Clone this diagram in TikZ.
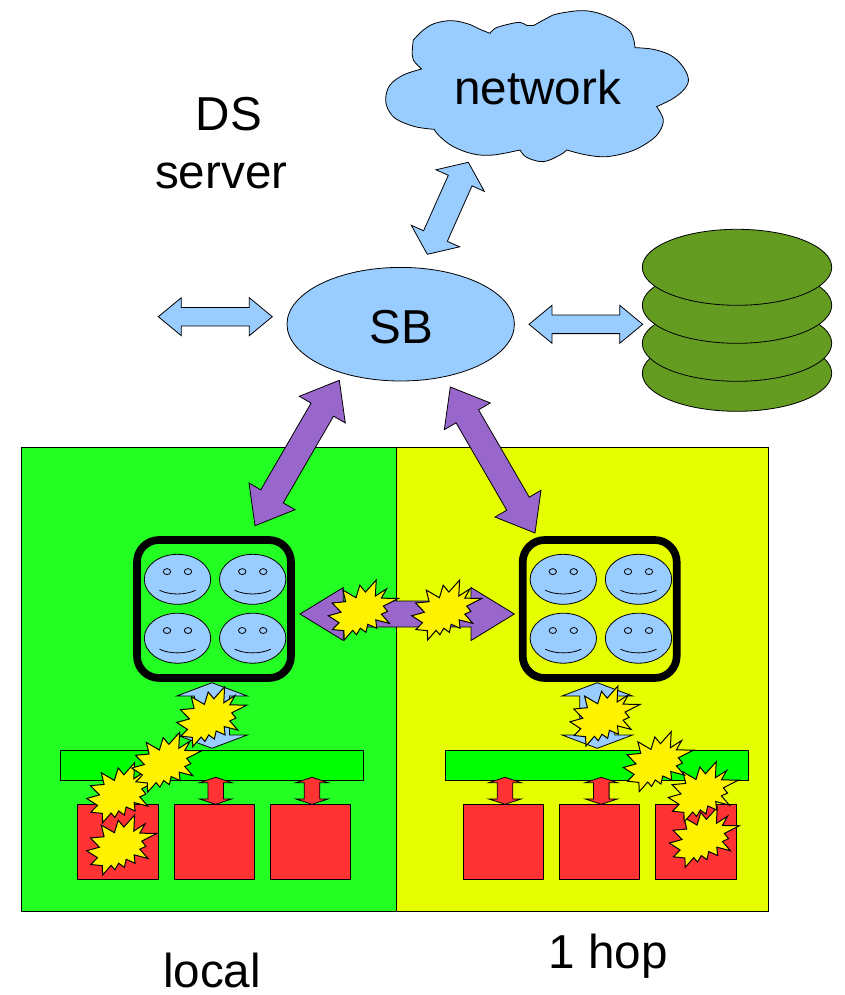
\documentclass[tikz,border=0pt]{standalone}
\usepackage{fontspec}
\setmainfont{Liberation Sans}
\usetikzlibrary{calc,shapes.geometric}
\definecolor{skyb}{HTML}{99CCFF}
\definecolor{purp}{HTML}{9966CC}
\definecolor{grnA}{HTML}{23FF23}
\definecolor{grnB}{HTML}{00FF00}
\definecolor{yelA}{HTML}{E6FF00}
\definecolor{redA}{HTML}{FF3333}
\definecolor{oliv}{HTML}{639C20}
\tikzset{
  every node/.style={inner sep=0pt,outer sep=0pt},
  lbl/.style={anchor=base,font=\fontsize{47.6}{48}\selectfont},
  edge/.style={draw=black,line width=0.8pt,line join=miter},
  panel/.style={edge,anchor=north west},
  sqr/.style={edge,fill=redA,anchor=north west,minimum width=80.5pt,minimum height=75.5pt},
  busbar/.style={edge,fill=grnB,anchor=north west,minimum width=303pt,minimum height=30.3pt},
  groupbox/.style={draw=black,line width=7.7pt,rounded corners=22pt,anchor=north west,minimum width=154pt,minimum height=138pt},
  burststyle/.style={draw=black,fill=yellow,line width=1pt,line join=miter},
  disk/.style={ellipse,edge,fill=oliv,minimum width=189.4pt,minimum height=76pt},
  bluearrow/.style={edge,fill=skyb},
  purparrow/.style={edge,fill=purp},
  redarrow/.style={edge,fill=redA},
  smiley/.pic={
    \draw[edge,fill=skyb] (0,0) ellipse [x radius=33.2,y radius=25];
    \draw[edge,fill=skyb] (-10.5,-7.7) ellipse [x radius=3.7,y radius=3];
    \draw[edge,fill=skyb] (10.5,-7.7) ellipse [x radius=3.7,y radius=3];
    \draw[edge] (-18,11) .. controls (-8,15.9) and (8,15.9) .. (18,11);
  }
}
% block arrow with two heads: [style]{end a}{end b}{head length}{head half width}{shaft half width}
\newcommand\dblarrow[6][]{%
  \draw[#1] (#2)
    -- ($(#2)!#4!(#3)!#5!90:(#3)$)
    -- ($(#2)!#4!(#3)!#6!90:(#3)$)
    -- ($(#3)!#4!(#2)!#6!-90:(#2)$)
    -- ($(#3)!#4!(#2)!#5!-90:(#2)$)
    -- (#3)
    -- ($(#3)!#4!(#2)!#5!90:(#2)$)
    -- ($(#3)!#4!(#2)!#6!90:(#2)$)
    -- ($(#2)!#4!(#3)!#6!-90:(#3)$)
    -- ($(#2)!#4!(#3)!#5!-90:(#3)$)
    -- cycle;}
% explosion: upper left corner x,y
\newcommand\burst[2]{%
  \draw[burststyle,shift={(#1,#2)},x=0.32407pt,y=-0.27778pt]
   (114.62,43.42) -- (147.90,0) -- (145.25,57.77) -- (180.07,31.72) -- (163.80,65.32) -- (216,66.45)
   -- (169.85,94.02) -- (182.70,112.90) -- (163.80,123.10) -- (188.77,156.32) -- (146.40,143.50)
   -- (149.42,173.70) -- (121.80,159.35) -- (116.12,188.42) -- (98.72,173.70) -- (87.00,197.12)
   -- (75.27,181.25) -- (49.17,216) -- (48.05,182.40) -- (12.85,178.25) -- (33.30,153.70)
   -- (0,128.77) -- (39.35,115.92) -- (11.72,82.70) -- (53.72,78.17) -- (45.02,36.25)
   -- (85.50,63.82) -- (97.22,18.87) -- cycle;}
\begin{document}
\begin{tikzpicture}[x=1pt,y=-1pt]
\useasboundingbox (0,0) rectangle (845,995);

% panels
\node[panel,fill=grnA,minimum width=374.5pt,minimum height=464pt] (localpanel) at (21.7,447) {};
\node[panel,fill=yelA,minimum width=372pt,minimum height=464pt] (hoppanel) at (396.2,447) {};

% network cloud
\begin{scope}[shift={(380,0)},scale=0.33333]
\draw[edge,fill=skyb]
  plot[smooth,tension=.6] coordinates {(100,120)(130,90)(165,70)(215,62)(265,72)(300,88)(330,100)}
  -- plot[smooth,tension=.6] coordinates {(330,100)(345,85)(380,74)(420,67)(440,76)(462,76)}
  -- plot[smooth,tension=.6] coordinates {(462,76)(500,55)(530,42)(600,32)(650,38)(700,58)(745,88)(760,115)(765,143)}
  -- plot[smooth,tension=.6] coordinates {(765,143)(820,148)(870,165)(905,195)(925,235)(915,265)(880,295)(830,320)}
  -- plot[smooth,tension=.6] coordinates {(830,320)(850,360)(835,400)(800,430)(750,455)(680,470)(620,465)(560,450)}
  -- plot[smooth,tension=.6] coordinates {(560,450)(540,465)(490,485)(440,472)(420,450)}
  -- plot[smooth,tension=.6] coordinates {(420,450)(340,465)(280,462)(220,440)(180,410)(162,388)}
  -- plot[smooth,tension=.6] coordinates {(162,388)(105,380)(50,358)(25,330)(17,295)(30,255)(70,225)(125,207)}
  -- plot[smooth,tension=.6] coordinates {(125,207)(100,180)(97,150)(100,120)}
  -- cycle;
\end{scope}
\node[lbl] (network) at (537.5,105) {network};

% labels
\node[lbl] (ds) at (228.7,131) {DS};
\node[lbl] (server) at (221.3,189) {server};
\node[lbl] (local) at (212,987) {local};
\node[lbl] (hop) at (608,968) {1 hop};

% switchboard
\node[ellipse,edge,fill=skyb,minimum width=227.4pt,minimum height=113.6pt] (sb) at (400.7,324.2) {};
\node[lbl] (sblabel) at (401,343) {SB};

% disks
\node[disk] (disk4) at (737,373.3) {};
\node[disk] (disk3) at (737,343.3) {};
\node[disk] (disk2) at (737,305.3) {};
\node[disk] (disk1) at (737,267.3) {};

% group boxes and faces
\node[groupbox] (boxL) at (137,540) {};
\node[groupbox] (boxR) at (522.7,540) {};
\foreach \dx in {0,385.8}{
  \pic at ({177.5+\dx},579.3) {smiley};
  \pic at ({252.7+\dx},579.3) {smiley};
  \pic at ({177.5+\dx},638.2) {smiley};
  \pic at ({252.7+\dx},638.2) {smiley};
}

% buses and memory squares
\node[busbar] (busL) at (60.5,750) {};
\node[busbar] (busR) at (445.5,750) {};
\node[sqr] (a1) at (77.7,804.3) {};
\node[sqr] (a2) at (174,804.3) {};
\node[sqr] (a3) at (270,804.3) {};
\node[sqr] (b1) at (463,804.3) {};
\node[sqr] (b2) at (559.3,804.3) {};
\node[sqr] (b3) at (655.4,804.3) {};

% connector ends
\coordinate (cn) at (468.3,162.3);
\coordinate (cs) at (427.3,254.3);
\coordinate (wl) at (158.3,316.7);
\coordinate (wr) at (272.3,316.7);
\coordinate (el) at (529,324.3);
\coordinate (er) at (642.7,324.3);
\coordinate (pla) at (339.3,380.3);
\coordinate (plb) at (255,525.7);
\coordinate (pra) at (450.3,387);
\coordinate (prb) at (535,533);
\coordinate (pml) at (300,614);
\coordinate (pmr) at (514.3,614);
\coordinate (vla) at (212,682.7);
\coordinate (vlb) at (212,748.3);
\coordinate (vra) at (597.3,682.7);
\coordinate (vrb) at (597.3,748.3);
\coordinate (r1a) at (215.7,777.3);
\coordinate (r1b) at (215.7,804.3);
\coordinate (r2a) at (312,777.3);
\coordinate (r2b) at (312,804.3);
\coordinate (r3a) at (505,777.3);
\coordinate (r3b) at (505,804.3);
\coordinate (r4a) at (601.3,777.3);
\coordinate (r4b) at (601.3,804.3);

% connectors
\dblarrow[bluearrow]{cn}{cs}{20pt}{26.5pt}{13pt}
\dblarrow[bluearrow]{wl}{wr}{23pt}{19pt}{9.3pt}
\dblarrow[bluearrow]{el}{er}{23pt}{19pt}{9.3pt}
\dblarrow[purparrow]{pla}{plb}{33.9pt}{26.6pt}{13pt}
\dblarrow[purparrow]{pra}{prb}{33.9pt}{26.6pt}{13pt}
\dblarrow[purparrow]{pml}{pmr}{43.3pt}{26.5pt}{13pt}
\dblarrow[bluearrow]{vla}{vlb}{13.3pt}{35.3pt}{17.5pt}
\dblarrow[bluearrow]{vra}{vrb}{13.3pt}{35.3pt}{17.5pt}
\dblarrow[redarrow]{r1a}{r1b}{5.4pt}{16.3pt}{7.8pt}
\dblarrow[redarrow]{r2a}{r2b}{5.4pt}{16.3pt}{7.8pt}
\dblarrow[redarrow]{r3a}{r3b}{5.4pt}{16.3pt}{7.8pt}
\dblarrow[redarrow]{r4a}{r4b}{5.4pt}{16.3pt}{7.8pt}

% explosions
\burst{328.3}{580}
\burst{411.7}{580}
\burst{86.7}{815}
\burst{86.7}{762.7}
\burst{131.7}{732.3}
\burst{176.7}{686.7}
\burst{669.3}{807.3}
\burst{668.3}{761.7}
\burst{623.3}{731.7}
\burst{570}{686}
\end{tikzpicture}
\end{document}
